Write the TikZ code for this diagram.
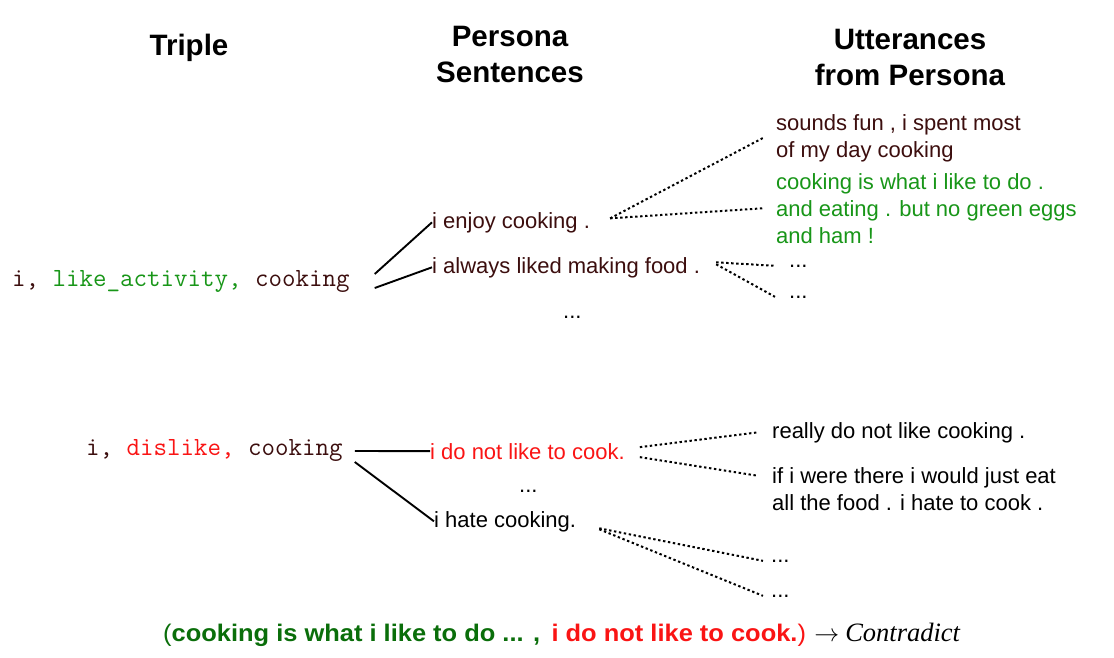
\documentclass[tikz,border=0pt]{standalone}
\usepackage{fontspec}
\setmainfont{Liberation Sans}
\newfontfamily\seriffont{Liberation Serif}
\definecolor{tbrown}{RGB}{60,14,14}
\definecolor{tgreen}{RGB}{24,150,24}
\definecolor{tred}{RGB}{250,20,20}
\definecolor{dgreen}{RGB}{10,110,10}
\tikzset{
  head/.style={font=\bfseries\fontsize{29.5}{36}\selectfont, align=center, inner sep=0pt},
  triple/.style={font=\ttfamily\fontsize{26.2}{30}\selectfont, inner sep=0pt, anchor=base west},
  sent/.style={font=\fontsize{22}{27}\selectfont, inner sep=0pt, anchor=base west},
  utt/.style={font=\fontsize{22}{27}\selectfont, inner sep=0pt, anchor=base west, align=left},
  solidline/.style={line width=1.9pt, black},
  dotline/.style={line width=2pt, black, dash pattern=on 2.4pt off 2.6pt},
}
\begin{document}
\begin{tikzpicture}[x=1pt,y=-1pt]
\useasboundingbox (0,0) rectangle (1114,657);
\fill[white] (0,0) rectangle (1114,657);

% headers
\node[head, anchor=base] (h1) at (189,55) {Triple};
\node[head, anchor=base] (h2) at (510,82) {Persona\\Sentences};
\node[head, anchor=base] (h3) at (910,85) {Utterances\\from Persona};

% first triple
\node[triple, text=tbrown] (t1) at (12,286) {i, \textcolor{tgreen}{like\_activity,} cooking};
\node[sent, text=tbrown] (s1) at (432,228) {i enjoy cooking .};
\node[sent, text=tbrown] (s2) at (432,273) {i always liked making food .};
\node[sent] (sd1) at (563,318) {...};

\node[utt, text=tbrown, anchor=north west] (u1) at (776,114) {sounds fun , i spent most\\of my day cooking};
\node[utt, text=tgreen, anchor=north west] (u2) at (776,173) {cooking is what i like to do .\\and eating . but no green eggs\\and ham !};
\node[sent] (ud1) at (789,267) {...};
\node[sent] (ud2) at (789,298) {...};

\draw[solidline] ([xshift=25pt,yshift=7pt]t1.east) -- (s1.west);
\draw[solidline] ([xshift=25pt,yshift=-7pt]t1.east) -- (s2.west);
\draw[dotline] ([xshift=20pt,yshift=4pt]s1.east) -- ([xshift=-13pt,yshift=0pt]u1.west);
\draw[dotline] ([xshift=20pt,yshift=4pt]s1.east) -- ([xshift=-13pt]u2.west);
\draw[dotline] ([xshift=16pt,yshift=5pt]s2.east) -- ([xshift=-14pt,yshift=0pt]ud1.west);
\draw[dotline] ([xshift=16pt,yshift=3pt]s2.east) -- ([xshift=-14pt,yshift=0pt]ud2.west);

% second triple
\node[triple, text=tbrown] (t2) at (86,455) {i, \textcolor{tred}{dislike,} cooking};
\node[sent, text=tred] (s3) at (430,459) {i do not like to cook.};
\node[sent] (sd2) at (519,492) {...};
\node[sent, text=black] (s4) at (434,527) {i hate cooking.};

\node[utt, text=black] (u4) at (772,438) {really do not like cooking .};
\node[utt, text=black, anchor=north west] (u5) at (772,467) {if i were there i would just eat\\all the food . i hate to cook .};
\node[sent] (ud3) at (771,562) {...};
\node[sent] (ud4) at (771,597) {...};

\draw[solidline] ([xshift=12pt,yshift=-1pt]t2.east) -- (s3.west);
\draw[solidline] ([xshift=12pt,yshift=-12pt]t2.east) -- (s4.west);
\draw[dotline] ([xshift=15pt,yshift=4pt]s3.east) -- ([xshift=-14pt,yshift=0pt]u4.west);
\draw[dotline] ([xshift=15pt,yshift=-6pt]s3.east) -- ([xshift=-14pt,yshift=13pt]u5.west);
\draw[dotline] ([xshift=23pt,yshift=-7pt]s4.east) -- ([xshift=-8pt,yshift=0pt]ud3.west);
\draw[dotline] ([xshift=23pt,yshift=-8pt]s4.east) -- ([xshift=-8pt,yshift=0pt]ud4.west);

% conclusion
\node[inner sep=0pt, anchor=base west] (c) at (163,641) {\fontsize{24}{28}\selectfont
  \scalebox{1.06}[1]{\textcolor{dgreen}{(\textbf{cooking is what i like to do ... ,}}\hspace{0.45em}%
  \textcolor{tred}{\textbf{i do not like to cook.})}}\hspace{0.35em}$\rightarrow$\hspace{0.25em}{\seriffont\itshape\fontsize{26.5}{30}\selectfont Contradict}};
\end{tikzpicture}
\end{document}
